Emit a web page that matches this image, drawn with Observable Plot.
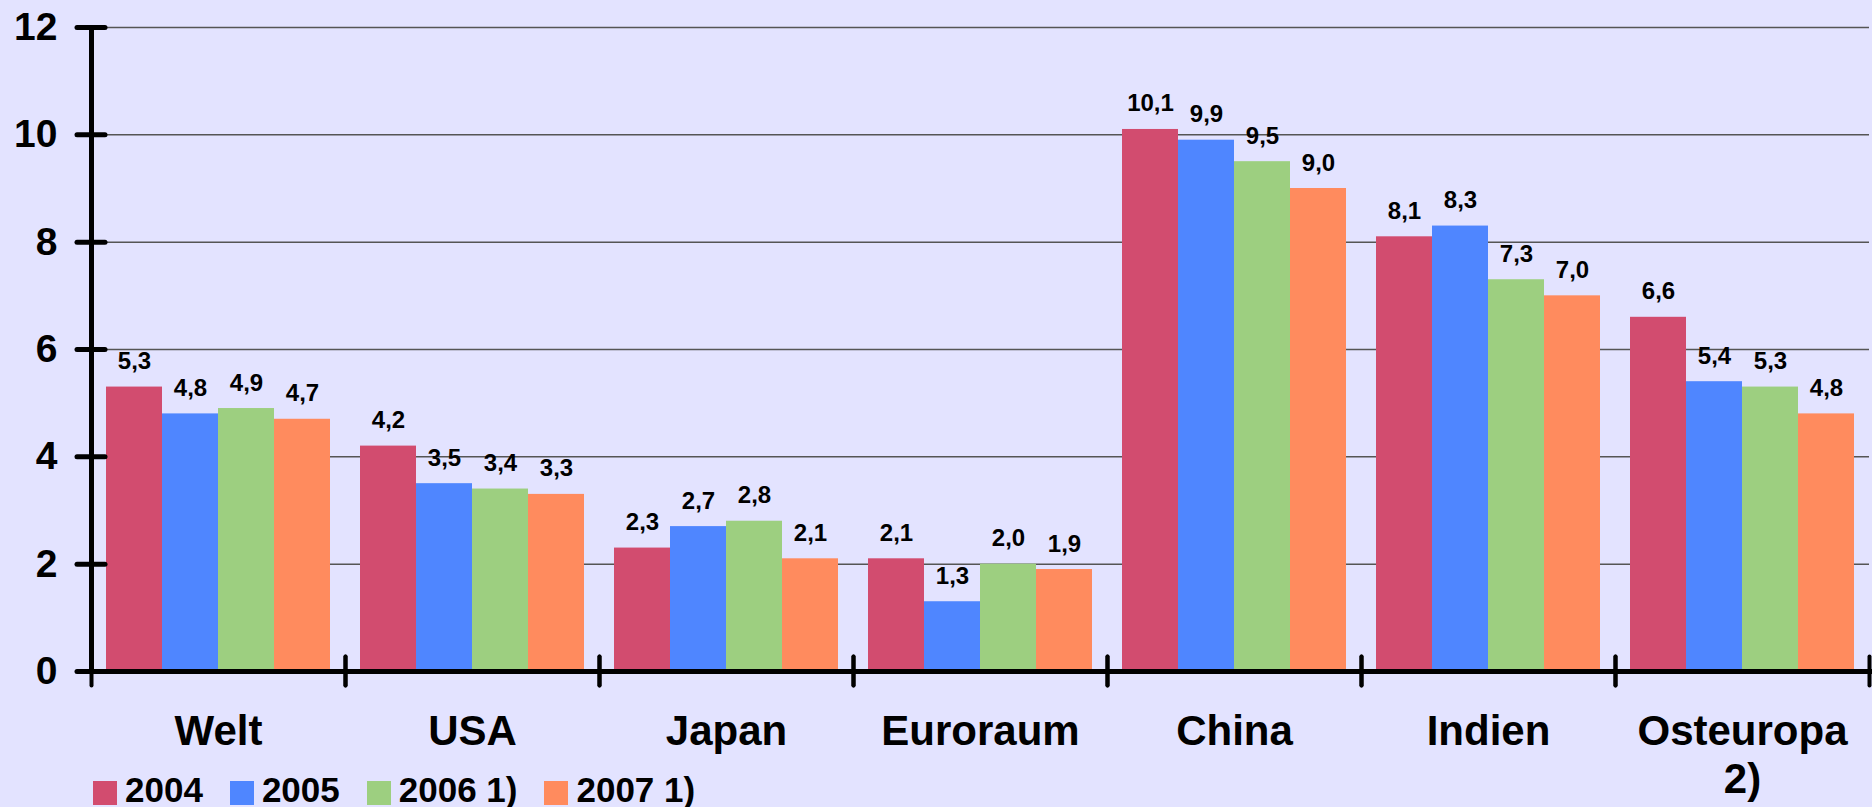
<!DOCTYPE html>
<html>
<head>
<meta charset="utf-8">
<script src="https://cdn.jsdelivr.net/npm/d3@7"></script>
<script src="https://cdn.jsdelivr.net/npm/@observablehq/plot@0.6"></script>
<style>
  html, body { margin: 0; padding: 0; background: #E3E3FF; }
  body { width: 1872px; height: 807px; position: relative; overflow: hidden; font-family: "Liberation Sans", Arial, sans-serif; }
  #legend { position: absolute; left: 93px; top: 772px; display: flex; align-items: center; font-weight: bold; font-size: 35px; line-height: 35px; color: #000; }
  #legend .item { display: flex; align-items: center; margin-right: 27px; }
  #legend .sw { width: 24px; height: 24px; margin-right: 8px; margin-top: 6px; }
</style>
</head>
<body>
<div id="chart"></div>
<div id="legend"></div>
<script>
const countries = ["Welt", "USA", "Japan", "Euroraum", "China", "Indien", "Osteuropa 2)"];
const years = ["2004", "2005", "2006 1)", "2007 1)"];
const v2004 = [5.3, 4.2, 2.3, 2.1, 10.1, 8.1, 6.6];
const v2005 = [4.8, 3.5, 2.7, 1.3, 9.9, 8.3, 5.4];
const v2006 = [4.9, 3.4, 2.8, 2.0, 9.5, 7.3, 5.3];
const v2007 = [4.7, 3.3, 2.1, 1.9, 9.0, 7.0, 4.8];
const yTicks = [0, 2, 4, 6, 8, 10, 12];
const colors = ["#D24C6F", "#4F86FF", "#9DCF80", "#FF8B5E"];

const series = [v2004, v2005, v2006, v2007];
const data = [];
countries.forEach((c, i) => {
  years.forEach((y, j) => data.push({country: c, year: y, value: series[j][i]}));
});
const fmt = v => v.toFixed(1).replace(".", ",");

const font = "Liberation Sans, Arial, sans-serif";

const chart = Plot.plot({
  width: 1872,
  height: 807,
  marginLeft: 90,
  marginRight: 3,
  marginTop: 27,
  marginBottom: 136,
  style: {background: "transparent", fontFamily: font, color: "#000", overflow: "visible"},
  fx: {domain: countries, padding: 0, label: null},
  x: {domain: years, paddingInner: 0, paddingOuter: 0.25, axis: null},
  y: {domain: [0, 12], axis: null, label: null},
  color: {domain: years, range: colors},
  marks: [
    Plot.gridY(yTicks.filter(d => d > 0), {stroke: "#555", strokeOpacity: 1, strokeWidth: 1.5}),
    Plot.barY(data, {fx: "country", x: "year", y: "value", fill: "year"}),
    Plot.text(data, {fx: "country", x: "year", y: "value", text: d => fmt(d.value), lineAnchor: "bottom", dy: -18, fontSize: 24, fontWeight: "bold", fill: "#000"}),
    Plot.ruleY([0], {stroke: "#000", strokeWidth: 5, insetRight: -3}),
    Plot.frame({anchor: "left", stroke: "#000", strokeWidth: 4, strokeLinecap: "round", insetTop: 629, insetBottom: -14}),
    Plot.frame({anchor: "right", stroke: "#000", strokeWidth: 4, strokeLinecap: "round", insetTop: 629, insetBottom: -14}),
    Plot.frame({anchor: "left", facetAnchor: "left", stroke: "#000", strokeWidth: 5}),
    Plot.axisY(yTicks, {text: null, label: null, tickSize: 28, dx: 14, stroke: "#000", strokeWidth: 5, strokeLinecap: "round"}),
    Plot.axisY(yTicks, {tickSize: 0, tickPadding: 34, tickFormat: d => String(d), fontSize: 39, fontWeight: "bold", label: null}),
    Plot.axisFx({anchor: "bottom", tickSize: 0, tickPadding: 39, fontSize: 42, fontWeight: "bold", lineWidth: 5.5, lineHeight: 1.15, label: null})
  ]
});
document.getElementById("chart").append(chart);

const legend = document.getElementById("legend");
years.forEach((y, j) => {
  const item = document.createElement("div");
  item.className = "item";
  const sw = document.createElement("div");
  sw.className = "sw";
  sw.style.background = colors[j];
  const t = document.createElement("span");
  t.textContent = y;
  item.append(sw, t);
  legend.append(item);
});
</script>
</body>
</html>
